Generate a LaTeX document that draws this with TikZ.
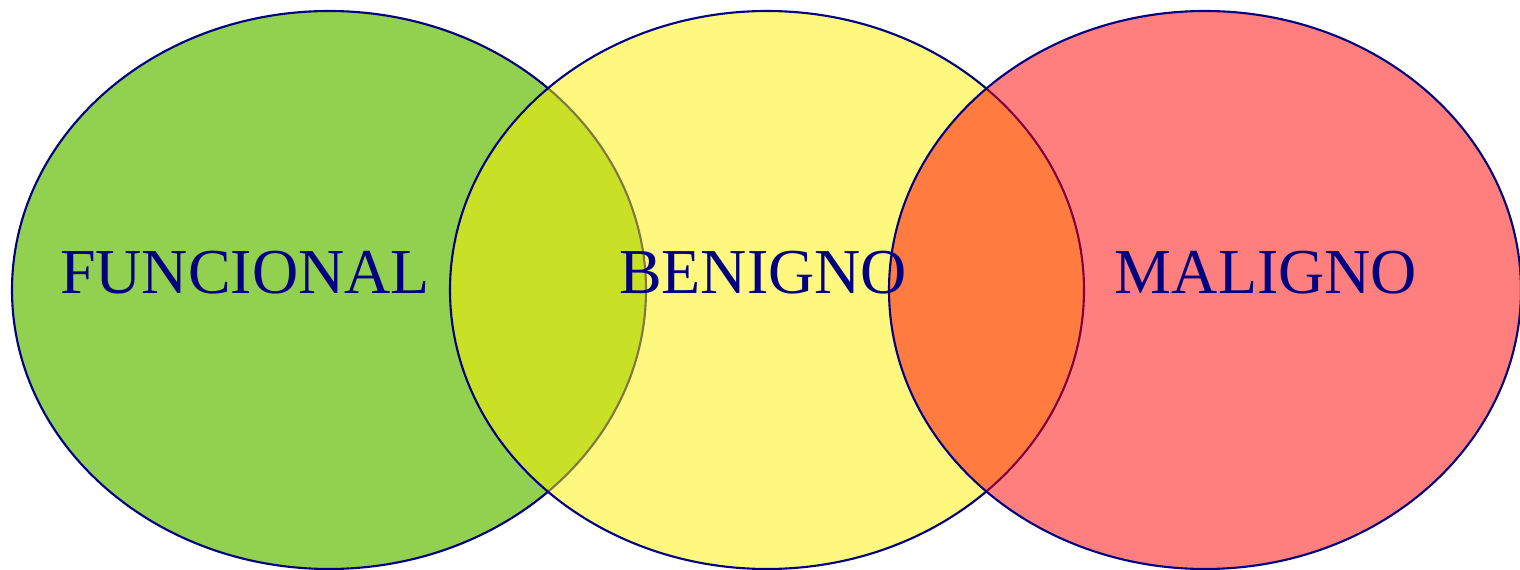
\documentclass[tikz,border=0pt]{standalone}
\usepackage{fontspec}
\setmainfont{Liberation Serif}
\usetikzlibrary{positioning}
\definecolor{navyline}{RGB}{0,0,128}
\definecolor{funcgreen}{RGB}{146,208,80}
\tikzset{
  setfill/.style={fill=#1, draw=navyline, line width=0.6pt},
  setlbl/.style={anchor=base, font=\fontsize{18.2}{22}\selectfont, text=navyline, inner sep=0pt},
}
\begin{document}
\begin{tikzpicture}[x=0.01cm, y=-0.01cm]
  \useasboundingbox (0,0) rectangle (1520,570);
  \clip (0,0) rectangle (1520,570);
  \draw[setfill=funcgreen] (329,290) ellipse [x radius=317, y radius=279];
  \draw[setfill=yellow, fill opacity=0.5] (767,290) ellipse [x radius=317, y radius=279];
  \draw[setfill=red, fill opacity=0.5] (1205,290) ellipse [x radius=316, y radius=279];
  \node[setlbl] (func) at (245,294) {FUNCIONAL};
  \node[setlbl] (ben) at (763,294) {BENIGNO};
  \node[setlbl] (mal) at (1266,294) {MALIGNO};
\end{tikzpicture}
\end{document}
